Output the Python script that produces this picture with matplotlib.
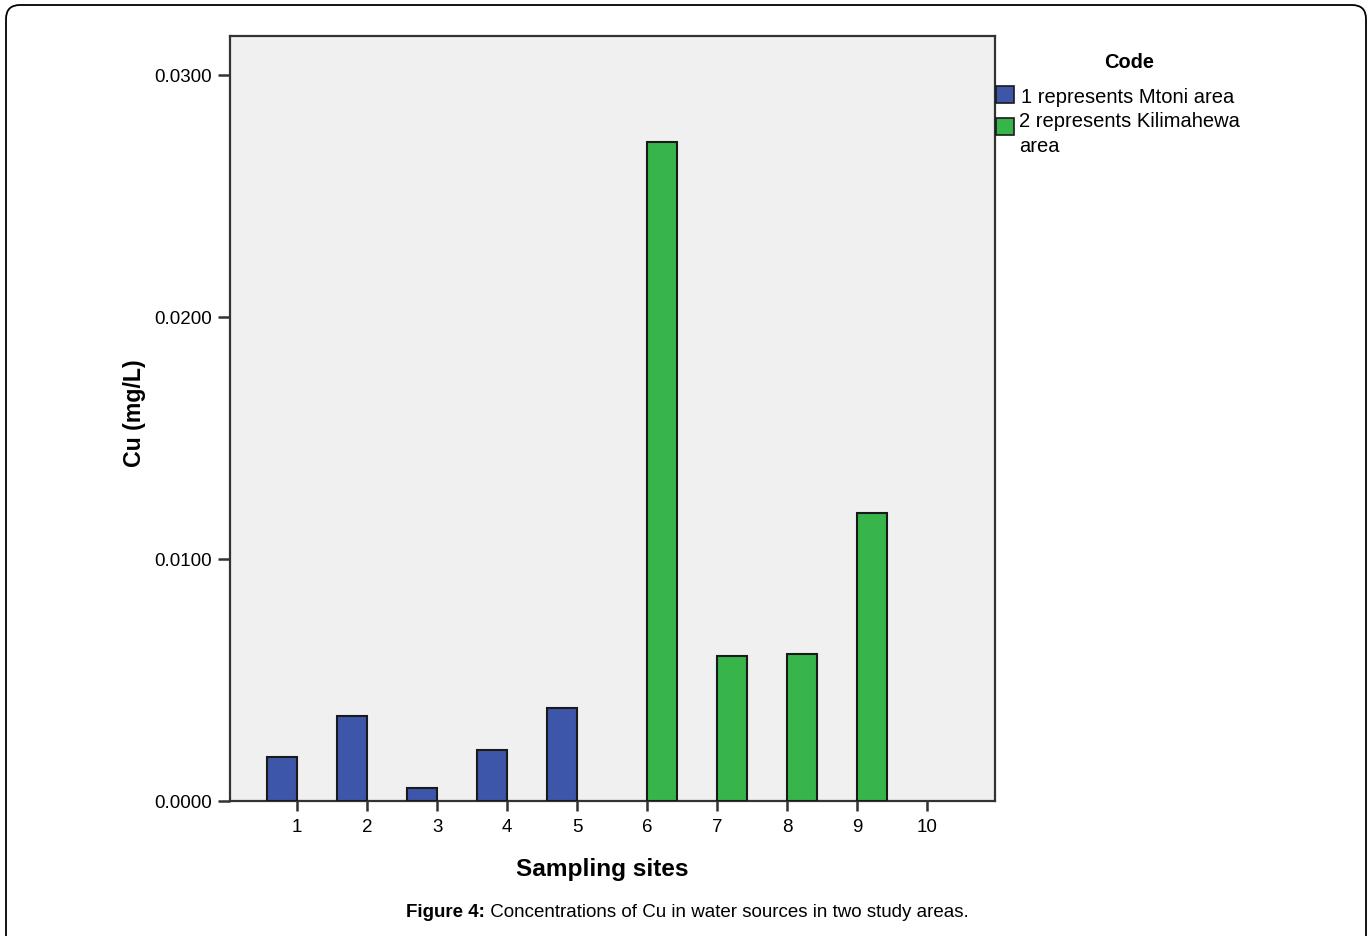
import numpy as np
import matplotlib.pyplot as plt
from matplotlib.patches import Rectangle, FancyBboxPatch

plt.rcParams['font.family'] = ['Liberation Sans', 'DejaVu Sans']

# data
mtoni_sites = [1, 2, 3, 4, 5]
mtoni_cu = [0.00182, 0.00351, 0.00052, 0.00212, 0.00383]
kili_sites = [6, 7, 8, 9]
kili_cu = [0.02724, 0.00599, 0.00609, 0.0119]
site_ticks = [1, 2, 3, 4, 5, 6, 7, 8, 9, 10]
y_ticks = [0.0, 0.01, 0.02, 0.03]
codes = ['1 represents Mtoni area', '2 represents Kilimahewa\narea']
colors = ['#3E56AA', '#38B54A']

W, H = 1371, 937
fig = plt.figure(figsize=(W / 100, H / 100), dpi=100)
ax = fig.add_axes([230 / W, 1 - 802 / H, (995 - 230) / W, (802 - 37) / H])
ax.set_facecolor('#F0F0F0')

w = 0.43
ax.bar(np.array(mtoni_sites) - w / 2, mtoni_cu, width=w, color=colors[0],
       edgecolor='#1a1a1a', linewidth=1.5, zorder=3)
ax.bar(np.array(kili_sites) + w / 2, kili_cu, width=w, color=colors[1],
       edgecolor='#1a1a1a', linewidth=1.5, zorder=3)

ax.set_xlim(0.04, 10.97)
ax.set_ylim(0, 0.03161)
ax.set_xticks(site_ticks)
ax.set_xticklabels([str(s) for s in site_ticks], fontsize=13.5)
ax.set_yticks(y_ticks)
ax.set_yticklabels(['%.4f' % v for v in y_ticks], fontsize=13.5)
ax.tick_params(axis='x', length=7, width=1.8, color='#333333', pad=5)
ax.tick_params(axis='y', length=9, width=1.8, color='#333333', pad=4)
for s in ax.spines.values():
    s.set_color('#333333')
    s.set_linewidth(1.6)

fig.text(602 / W, 1 - 870 / H, 'Sampling sites', fontsize=17.6, fontweight='bold',
         ha='center', va='center')
fig.text(134 / W, 1 - 413 / H, 'Cu (mg/L)', fontsize=16.7, fontweight='bold',
         rotation=90, ha='center', va='center')

# legend
fig.text(1129 / W, 1 - 62 / H, 'Code', fontsize=14.4, fontweight='bold',
         ha='center', va='center')
box_y = [87, 119]
txt_y = [97, 121]
txt_x = [1021, 1019]
for c, lab, by, ty, tx in zip(colors, codes, box_y, txt_y, txt_x):
    fig.add_artist(Rectangle((996 / W, 1 - (by + 17) / H), 18 / W, 17 / H,
                             facecolor=c, edgecolor='#1a1a1a', linewidth=1.2,
                             transform=fig.transFigure))
    fig.text(tx / W, 1 - (ty - 9) / H, lab, fontsize=14.5, ha='left', va='top',
             linespacing=1.4)

# caption
t1 = fig.text(406 / W, 1 - 913 / H, 'Figure 4:', fontsize=13.5, fontweight='bold',
              ha='left', va='center')
ax.annotate(' Concentrations of Cu in water sources in two study areas.',
            xy=(1, 0), xycoords=t1, ha='left', va='bottom', fontsize=13.5,
            annotation_clip=False)

# rounded frame around the figure
fig.add_artist(FancyBboxPatch((6, -30), 1360, H - 6 + 30,
                              boxstyle='round,pad=0,rounding_size=14',
                              facecolor='none', edgecolor='black',
                              linewidth=1.3, transform=None))

fig.savefig('out.png', dpi=100)
